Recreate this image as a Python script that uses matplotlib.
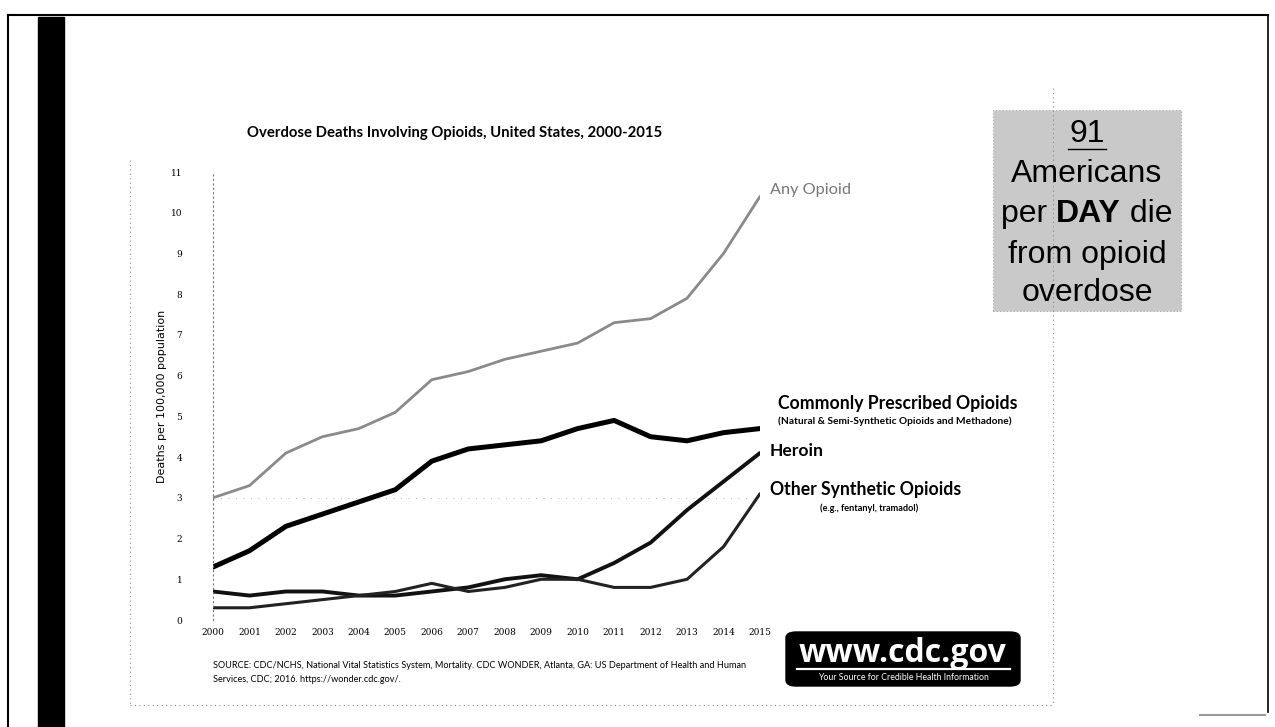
import matplotlib
matplotlib.use("Agg")
from matplotlib import pyplot as plt
from matplotlib.patches import Rectangle, FancyBboxPatch
from matplotlib.lines import Line2D

years = list(range(2000, 2016))
any_opioid = [3.0, 3.3, 4.1, 4.5, 4.7, 5.1, 5.9, 6.1, 6.4, 6.6, 6.8, 7.3, 7.4, 7.9, 9.0, 10.4]
prescribed = [1.3, 1.7, 2.3, 2.6, 2.9, 3.2, 3.9, 4.2, 4.3, 4.4, 4.7, 4.9, 4.5, 4.4, 4.6, 4.7]
heroin = [0.7, 0.6, 0.7, 0.7, 0.6, 0.6, 0.7, 0.8, 1.0, 1.1, 1.0, 1.4, 1.9, 2.7, 3.4, 4.1]
synthetic = [0.3, 0.3, 0.4, 0.5, 0.6, 0.7, 0.9, 0.7, 0.8, 1.0, 1.0, 0.8, 0.8, 1.0, 1.8, 3.1]
y_ticks = list(range(0, 12))

W, H = 1275, 727
fig = plt.figure(figsize=(W / 100, H / 100), dpi=100)
fig.patch.set_facecolor("white")


def fx(px):
    return px / W


def fy(py):
    return 1 - py / H


# scan frame and the thick bar on the left
fig.add_artist(Line2D([fx(8), fx(1268)], [fy(15), fy(15)], color="black", lw=1.5))
fig.add_artist(Line2D([fx(8), fx(8)], [fy(15), fy(727)], color="black", lw=1.5))
fig.add_artist(Line2D([fx(1268), fx(1268)], [fy(15), fy(712)], color="black", lw=1.2))
fig.add_artist(Line2D([fx(1200), fx(1265)], [fy(715), fy(715)], color="#999999", lw=1.5))
fig.add_artist(Rectangle((fx(38), 0), fx(64) - fx(38), fy(17), color="black"))

# dotted slide border
dot = dict(color="#888888", lw=0.8, ls=(0, (1, 3)))
fig.add_artist(Line2D([fx(130), fx(130)], [fy(160), fy(705)], **dot))
fig.add_artist(Line2D([fx(130), fx(1053)], [fy(705), fy(705)], **dot))
fig.add_artist(Line2D([fx(1053), fx(1053)], [fy(88), fy(705)], **dot))

ax = fig.add_axes([fx(213), fy(620), fx(760) - fx(213), fy(172) - fy(620)])
ax.set_xlim(2000, 2015)
ax.set_ylim(0, 11)
for s in ["top", "right", "bottom"]:
    ax.spines[s].set_visible(False)
ax.spines["left"].set_linestyle((0, (1, 3)))
ax.spines["left"].set_color("#777777")
ax.spines["left"].set_linewidth(0.8)
ax.tick_params(length=0, labelsize=7, pad=22)
ax.tick_params(axis="x", pad=6)
ax.set_xticks(years)
ax.set_xticklabels([str(y) for y in years], fontfamily="DejaVu Serif", fontsize=6.5)
ax.set_yticks(y_ticks)
ax.set_yticklabels([str(t) for t in y_ticks], fontfamily="DejaVu Serif", fontsize=6.5)
ax.axhline(3, color="#999999", lw=0.6, ls=(0, (1, 8)), zorder=0)
ax.set_ylabel("Deaths per 100,000 population", fontfamily="DejaVu Sans", fontsize=8, labelpad=3)

ax.plot(years, any_opioid, color="#8a8a8a", lw=2.0, solid_capstyle="round")
ax.plot(years, prescribed, color="black", lw=3.6, solid_capstyle="round")
ax.plot(years, heroin, color="#111111", lw=2.8, solid_capstyle="round")
ax.plot(years, synthetic, color="#222222", lw=2.2, solid_capstyle="round")

fig.text(fx(455), fy(133), "Overdose Deaths Involving Opioids, United States, 2000-2015",
         ha="center", va="center", fontfamily="Lato", fontweight="bold", fontsize=10.7)

# series labels
fig.text(fx(770), fy(190), "Any Opioid", fontfamily="Lato", fontsize=11.7, color="#777777", va="center")
fig.text(fx(778), fy(404), "Commonly Prescribed Opioids", fontfamily="Lato", fontweight="bold",
         fontsize=12.7, va="center")
fig.text(fx(778), fy(421), "(Natural & Semi-Synthetic Opioids and Methadone)", fontfamily="Lato",
         fontweight="bold", fontsize=7.3, va="center")
fig.text(fx(770), fy(451), "Heroin", fontfamily="Lato", fontweight="bold", fontsize=12.6, va="center")
fig.text(fx(770), fy(490), "Other Synthetic Opioids", fontfamily="Lato", fontweight="bold",
         fontsize=12.7, va="center")
fig.text(fx(869), fy(508), "(e.g., fentanyl, tramadol)", fontfamily="Lato", fontweight="bold",
         fontsize=6.6, va="center", ha="center")

# source
fig.text(fx(213), fy(665), "SOURCE: CDC/NCHS, National Vital Statistics System, Mortality. CDC WONDER, Atlanta, GA: US Department of Health and Human",
         fontfamily="Lato", fontsize=6.6, va="center")
fig.text(fx(213), fy(680), "Services, CDC; 2016. https://wonder.cdc.gov/.",
         fontfamily="Lato", fontsize=6.6, va="center")

# cdc logo
logo = FancyBboxPatch((fx(786), fy(686)), fx(1020) - fx(786), fy(632) - fy(686),
                      boxstyle="round,pad=0,rounding_size=0.008", transform=fig.transFigure,
                      facecolor="black", edgecolor="black")
fig.add_artist(logo)
fig.text(fx(903), fy(653), "www.cdc.gov", ha="center", va="center", color="white",
         fontfamily="Open Sans", fontweight="bold", fontsize=23)
fig.add_artist(Line2D([fx(797), fx(1010)], [fy(669), fy(669)], color="white", lw=1.6))
fig.text(fx(903), fy(678), "Your Source for Credible Health Information", ha="center", va="center",
         color="white", fontfamily="Lato", fontsize=6.3)

# callout box
fig.add_artist(Rectangle((fx(993), fy(311)), fx(1181) - fx(993), fy(110) - fy(311),
                         facecolor="#c9c9c9", edgecolor="#aaaaaa", lw=0.8, ls=(0, (1, 2))))
box_font = dict(fontfamily="Liberation Sans", fontsize=23, ha="center", va="center")
fig.text(fx(1087), fy(134), "91", **box_font)
fig.add_artist(Line2D([fx(1068), fx(1106)], [fy(149), fy(149)], color="black", lw=1.0))
fig.text(fx(1087), fy(174), "Americans", **box_font)
fig.text(fx(1087), fy(255), "from opioid", **box_font)
fig.text(fx(1087), fy(293), "overdose", **box_font)

# "per DAY die" with the bold word
r = fig.canvas.get_renderer()
parts = [("per ", "normal"), ("DAY", "bold"), (" die", "normal")]
widths = []
for txt, wt in parts:
    t = fig.text(0, 0, txt, fontfamily="Liberation Sans", fontsize=23, fontweight=wt)
    widths.append(t.get_window_extent(r).width)
    t.remove()
x0 = 1087 - sum(widths) / 2
for (txt, wt), w in zip(parts, widths):
    fig.text(fx(x0), fy(214), txt, fontfamily="Liberation Sans", fontsize=23, fontweight=wt,
             va="center", ha="left")
    x0 += w

fig.savefig("out.png", dpi=100)
